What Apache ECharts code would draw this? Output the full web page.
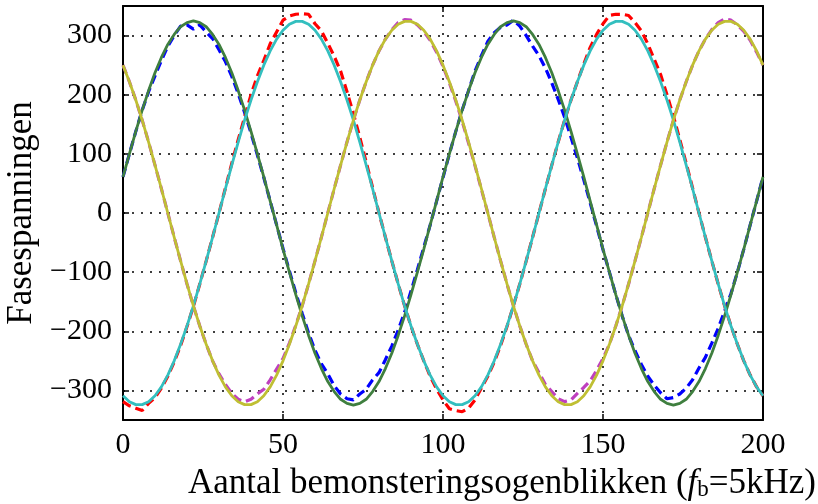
<!DOCTYPE html>
<html>
<head>
<meta charset="utf-8">
<script src="https://cdn.jsdelivr.net/npm/echarts@6/dist/echarts.min.js"></script>
<style>
  html, body { margin: 0; padding: 0; background: #fff; }
  #main { width: 818px; height: 504px; }
</style>
</head>
<body>
<div id="main"></div>
<script>
// sample index (every second sample, fb = 5 kHz)
var samples = [0,2,4,6,8,10,12,14,16,18,20,22,24,26,28,30,32,34,36,38,40,42,44,46,48,50,52,54,56,58,60,62,64,66,68,70,72,74,76,78,80,82,84,86,88,90,92,94,96,98,
  100,102,104,106,108,110,112,114,116,118,120,122,124,126,128,130,132,134,136,138,140,142,144,146,148,150,152,154,156,158,160,162,164,166,168,170,172,174,176,178,180,182,184,186,188,190,192,194,196,198,200]

// dashed (measured) phase voltages
var blueDashed = [61,100,138,174,205,232,258,282,300,316,
  318,311,318,306,295,276,256,231,202,170,
  135,98,60,20,-20,-60,-98,-135,-170,-203,
  -232,-255,-272,-292,-306,-314,-316,-306,-298,-282,
  -270,-248,-225,-198,-168,-132,-96,-58,-20,20,
  60,100,138,174,207,240,266,290,305,314,
  318,326,316,300,282,266,245,220,192,162,
  128,93,56,17,-22,-62,-100,-138,-174,-207,
  -233,-256,-276,-291,-304,-314,-312,-306,-296,-282,
  -262,-244,-220,-195,-166,-136,-100,-61,-20,20,
  61]
var redDashed = [-319,-326,-330,-334,-322,-312,-296,-276,-252,-224,
  -192,-158,-120,-81,-41,0,42,84,124,162,
  200,232,258,286,306,326,333,336,337,336,
  320,308,287,265,240,205,168,128,86,43,
  0,-41,-81,-120,-157,-191,-222,-250,-276,-298,
  -316,-331,-334,-336,-330,-316,-296,-276,-252,-224,
  -192,-157,-120,-81,-41,0,41,81,120,157,
  191,222,252,280,302,320,334,336,336,334,
  322,308,286,260,234,200,164,124,84,42,
  0,-41,-81,-120,-157,-191,-222,-250,-274,-294,
  -309]
var magentaDashed = [250,222,191,157,120,81,41,0,-41,-81,
  -120,-157,-191,-222,-250,-272,-290,-305,-315,-319,
  -315,-306,-298,-282,-264,-246,-220,-190,-157,-120,
  -81,-41,0,41,81,120,157,191,222,250,
  274,294,310,322,327,326,318,307,292,272,
  248,220,189,155,118,80,40,0,-41,-81,
  -120,-157,-191,-222,-250,-270,-290,-302,-314,-319,
  -316,-305,-295,-284,-266,-246,-222,-191,-157,-120,
  -81,-41,0,41,81,120,157,191,222,250,
  274,294,310,322,328,326,318,307,292,272,
  250]

// solid (reference) phase voltages
var greenSolid = [61,100,138,174,207,237,263,285,302,315,
  322,325,322,315,302,285,263,237,207,174,
  138,100,61,20,-20,-61,-100,-138,-174,-207,
  -237,-263,-285,-302,-315,-322,-325,-322,-315,-302,
  -285,-263,-237,-207,-174,-138,-100,-61,-20,20,
  61,100,138,174,207,237,263,285,302,315,
  322,325,322,315,302,285,263,237,207,174,
  138,100,61,20,-20,-61,-100,-138,-174,-207,
  -237,-263,-285,-302,-315,-322,-325,-322,-315,-302,
  -285,-263,-237,-207,-174,-138,-100,-61,-20,20,
  61]
var cyanSolid = [-309,-319,-324,-324,-319,-309,-294,-274,-250,-222,
  -191,-157,-120,-81,-41,0,41,81,120,157,
  191,222,250,274,294,309,319,324,324,319,
  309,294,274,250,222,191,157,120,81,41,
  0,-41,-81,-120,-157,-191,-222,-250,-274,-294,
  -309,-319,-324,-324,-319,-309,-294,-274,-250,-222,
  -191,-157,-120,-81,-41,0,41,81,120,157,
  191,222,250,274,294,309,319,324,324,319,
  309,294,274,250,222,191,157,120,81,41,
  0,-41,-81,-120,-157,-191,-222,-250,-274,-294,
  -309]
var yellowSolid = [250,222,191,157,120,81,41,0,-41,-81,
  -120,-157,-191,-222,-250,-274,-294,-309,-319,-324,
  -324,-319,-309,-294,-274,-250,-222,-191,-157,-120,
  -81,-41,0,41,81,120,157,191,222,250,
  274,294,309,319,324,324,319,309,294,274,
  250,222,191,157,120,81,41,0,-41,-81,
  -120,-157,-191,-222,-250,-274,-294,-309,-319,-324,
  -324,-319,-309,-294,-274,-250,-222,-191,-157,-120,
  -81,-41,0,41,81,120,157,191,222,250,
  274,294,309,319,324,324,319,309,294,274,
  250]

var yTicks = [-300, -200, -100, 0, 100, 200, 300]

var serif = 'Liberation Serif'
var black = '#000'

function pairs (vals) {
  return samples.map(function (n, i) { return [n, vals[i]] })
}
function minusSign (v) {
  return String(v).replace('-', '\u2212')
}
function line (vals, color, dashed) {
  return {
    type: 'line',
    data: pairs(vals),
    showSymbol: false,
    symbol: 'none',
    animation: false,
    lineStyle: {color: color, width: dashed ? 3.2 : 2.8, type: dashed ? [9, 5] : 'solid'}
  }
}

var frameTick = {inside: true, length: 6, lineStyle: {color: black, width: 1.5}}
var frameLine = {show: true, onZero: false, lineStyle: {color: black, width: 2}}
var dotted = {show: true, lineStyle: {color: black, width: 1.5, type: [2, 7]}}

var option = {
  backgroundColor: '#fff',
  animation: false,
  grid: {left: 123, right: 55, top: 6, bottom: 84, show: false, outerBoundsMode: 'none', containLabel: false},
  xAxis: [
    {
      type: 'value', min: 0, max: 200, interval: 50, position: 'bottom',
      axisLine: frameLine,
      axisTick: frameTick,
      axisLabel: {color: black, fontFamily: serif, fontSize: 30, margin: 10},
      splitLine: dotted,
      name: '{t|Aantal bemonsteringsogenblikken (}{i|f}{s|b}{t|=5kHz)}',
      nameLocation: 'middle',
      nameGap: 46,
      nameTextStyle: {
        fontFamily: serif, fontSize: 35, color: black, padding: [0, 0, 0, 118],
        rich: {
          t: {fontFamily: serif, fontSize: 35, color: black},
          i: {fontFamily: serif, fontSize: 35, color: black, fontStyle: 'italic'},
          s: {fontFamily: serif, fontSize: 23, color: black, verticalAlign: 'bottom', padding: [12, 0, 0, 0]}
        }
      }
    },
    {
      type: 'value', min: 0, max: 200, interval: 50, position: 'top',
      axisLine: frameLine, axisTick: frameTick,
      axisLabel: {show: false}, splitLine: {show: false}
    }
  ],
  yAxis: [
    {
      type: 'value', min: -350, max: 350, position: 'left',
      axisLine: frameLine,
      axisTick: {inside: true, length: 6, lineStyle: {color: black, width: 1.5}, customValues: yTicks},
      axisLabel: {color: black, fontFamily: serif, fontSize: 30, margin: 11, customValues: yTicks, formatter: minusSign},
      splitLine: dotted,
      name: 'Fasespanningen',
      nameLocation: 'middle',
      nameGap: 83,
      nameTextStyle: {fontFamily: serif, fontSize: 35, color: black}
    },
    {
      type: 'value', min: -350, max: 350, position: 'right',
      axisLine: frameLine,
      axisTick: {inside: true, length: 6, lineStyle: {color: black, width: 1.5}, customValues: yTicks},
      axisLabel: {show: false}, splitLine: {show: false}
    }
  ],
  series: [
    line(blueDashed, '#0000ff', true),
    line(redDashed, '#ff0000', true),
    line(magentaDashed, '#bf40bf', true),
    line(greenSolid, '#3f7f3f', false),
    line(cyanSolid, '#33bfbf', false),
    line(yellowSolid, '#bfbf33', false)
  ]
}

var myChart = echarts.init(document.getElementById('main'), null, {renderer: 'canvas'})
myChart.setOption(option)
</script>
</body>
</html>
